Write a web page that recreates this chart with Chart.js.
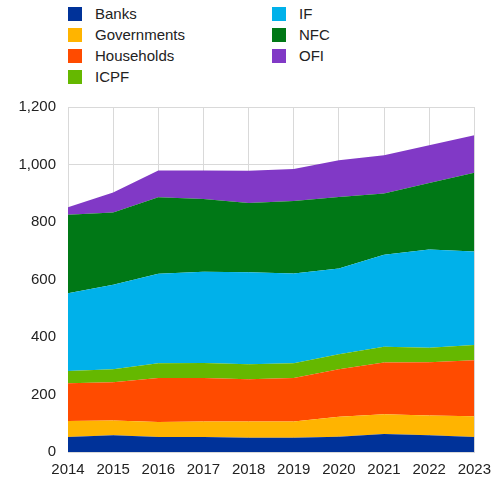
<!DOCTYPE html>
<html>
<head>
<meta charset="utf-8">
<script src="https://cdn.jsdelivr.net/npm/chart.js@4/dist/chart.umd.min.js"></script>
<style>
    body { margin: 0; background: #fff; font-family: Arial, "Liberation Sans", sans-serif; overflow: hidden; }
    #wrap { position: relative; width: 493px; height: 484px; overflow: hidden; }
    #legend { position: absolute; left: 68px; top: 3px; width: 420px; display: grid;
        grid-template-rows: repeat(4, 21px); grid-auto-flow: column; grid-template-columns: 204px 200px; }
    .item { display: flex; align-items: center; font-size: 15px; color: #222; }
    .box { width: 14px; height: 14px; margin-right: 13px; }
    #chartBox { position: absolute; left: 0; top: 86px; width: 500px; height: 398px; }
</style>
</head>
<body>
<div id="wrap">
    <div id="legend"></div>
    <div id="chartBox"><canvas id="chart"></canvas></div>
</div>
<script>
// Data
const years = ['2014', '2015', '2016', '2017', '2018', '2019', '2020', '2021', '2022', '2023'];
const seriesNames = ['Banks', 'Governments', 'Households', 'ICPF', 'IF', 'NFC', 'OFI'];
const banks = [52, 58, 52, 52, 50, 50, 53, 63, 58, 52];
const governments = [56, 52, 52, 54, 56, 56, 70, 68, 69, 72];
const households = [131, 133, 153, 151, 147, 151, 165, 180, 185, 195];
const icpf = [43, 45, 52, 53, 52, 52, 52, 55, 51, 53];
const investmentFunds = [270, 294, 311, 317, 320, 312, 298, 320, 341, 325];
const nfc = [273, 251, 266, 253, 241, 252, 249, 213, 232, 274];
const ofi = [26, 70, 93, 99, 112, 111, 128, 133, 131, 131];
const yTicks = [0, 200, 400, 600, 800, 1000, 1200];

const colors = ['#003299', '#ffb400', '#ff4b00', '#65b800', '#00b1ea', '#007816', '#8139c6'];
const values = [banks, governments, households, icpf, investmentFunds, nfc, ofi];

// Legend (two columns, filled top to bottom)
const legend = document.getElementById('legend');
seriesNames.forEach((name, i) => {
    const item = document.createElement('div');
    item.className = 'item';
    item.innerHTML = '<span class="box" style="background:' + colors[i] + '"></span>' + name;
    legend.appendChild(item);
});

const datasets = seriesNames.map((name, i) => ({
    label: name,
    data: values[i],
    backgroundColor: colors[i],
    borderColor: colors[i],
    borderWidth: 0,
    pointRadius: 0,
    tension: 0,
    fill: i === 0 ? 'origin' : '-1'
}));

new Chart(document.getElementById('chart'), {
    type: 'line',
    data: { labels: years, datasets: datasets },
    options: {
        responsive: true,
        maintainAspectRatio: false,
        animation: false,
        layout: { padding: { top: 3, right: 13 } },
        plugins: { legend: { display: false }, tooltip: { enabled: false } },
        scales: {
            x: {
                offset: false,
                grid: { color: '#d9d9d9', drawTicks: false },
                border: { color: '#d9d9d9' },
                ticks: { color: '#222', font: { family: 'Arial, "Liberation Sans"', size: 15 }, padding: 9, maxRotation: 0 },
                afterFit: (axis) => { axis.height = 32; }
            },
            y: {
                stacked: true,
                min: 0,
                max: 1200,
                afterBuildTicks: (axis) => { axis.ticks = yTicks.map(v => ({ value: v })); },
                grid: { color: '#d9d9d9', drawTicks: false },
                border: { display: false },
                ticks: {
                    color: '#222',
                    font: { family: 'Arial, "Liberation Sans"', size: 15 },
                    padding: 12,
                    callback: (v) => v.toLocaleString('en-US')
                },
                afterFit: (axis) => { axis.width = 68; }
            }
        }
    }
});
</script>
</body>
</html>
